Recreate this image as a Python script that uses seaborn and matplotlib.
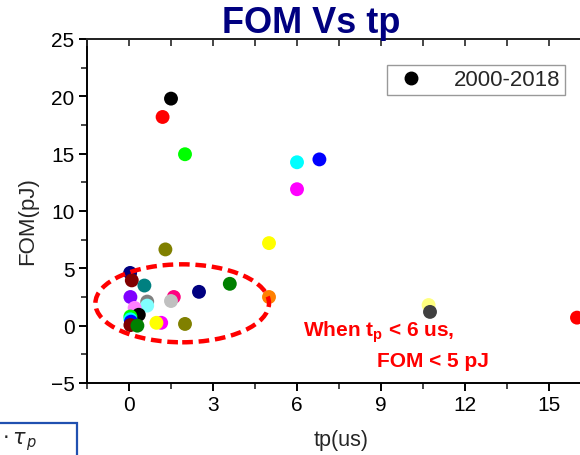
import matplotlib
matplotlib.use("Agg")
import matplotlib.pyplot as plt
from matplotlib.patches import Ellipse, Rectangle
from matplotlib.lines import Line2D
from matplotlib.ticker import MultipleLocator
import seaborn as sns
import pandas as pd

# Reported devices: pulse width tp (us) and figure of merit (pJ)
tp_us = [0.04, 0.10, 0.55, 0.05, 0.65, 0.65, 0.20, 0.35, 0.05, 0.05, 0.07,
         0.05, 0.30, 1.15, 0.98, 2.00, 1.60, 1.50, 2.50, 3.60, 5.00, 1.30,
         5.00, 1.50, 1.20, 2.00, 6.00, 6.80, 6.00, 10.70, 10.75, 16.00]
fom_pj = [4.60, 3.95, 3.50, 2.50, 2.10, 1.75, 1.55, 0.95, 0.80, 0.55, 0.35,
          0.05, 0.00, 0.25, 0.25, 0.15, 2.50, 2.15, 2.95, 3.65, 2.50, 6.65,
          7.20, 19.80, 18.20, 14.95, 14.25, 14.50, 11.90, 1.80, 1.20, 0.70]
point_colors = ["#000080", "#800000", "#008080", "#8000ff", "#808080", "#80ffff",
                "#ff80ff", "#000000", "#00ff00", "#00ffff", "#0000ff", "#800000",
                "#008000", "#ff00ff", "#ffff00", "#808000", "#ff0080", "#c0c0c0",
                "#000080", "#008000", "#ff8000", "#808000", "#ffff00", "#000000",
                "#ff0000", "#00ff00", "#00ffff", "#0000ff", "#ff00ff", "#ffff80",
                "#404040", "#ff0000"]
series_label = "2000-2018"

df = pd.DataFrame({"tp": tp_us, "fom": fom_pj,
                   "pid": [f"p{i}" for i in range(len(tp_us))]})
palette = dict(zip(df["pid"], point_colors))

sns.set_theme(style="ticks")
plt.rcParams["font.family"] = ["Liberation Sans", "DejaVu Sans"]

W, H = 580, 456
fig = plt.figure(figsize=(W / 100, H / 100), dpi=100)
ax_left, ax_right, ax_top, ax_bottom = 87, 625, 40, 384
ax_w, ax_h = ax_right - ax_left, ax_bottom - ax_top
ax = fig.add_axes([ax_left / W, 1 - ax_bottom / H, ax_w / W, ax_h / H])

sns.scatterplot(data=df, x="tp", y="fom", hue="pid", palette=palette,
                hue_order=list(df["pid"]), s=100, linewidth=0,
                legend=False, ax=ax, zorder=3)

xlim = (-1.5, (ax_right - 129) / 28)
ax.set_xlim(*xlim)
ax.set_ylim(-5, 25)
ax.xaxis.set_major_locator(MultipleLocator(3))
ax.xaxis.set_minor_locator(MultipleLocator(1.5))
ax.yaxis.set_major_locator(MultipleLocator(5))
ax.yaxis.set_minor_locator(MultipleLocator(2.5))

for sp in ax.spines.values():
    sp.set_linewidth(1.4)
    sp.set_color("black")
ax.spines["right"].set_visible(False)

ax.tick_params(axis="both", which="major", direction="out", length=6, width=1.4,
               labelsize=15, colors="black", pad=3)
ax.tick_params(axis="both", which="minor", direction="out", length=4, width=1.2)
ax.tick_params(axis="x", which="both", top=False)

# Top axis ticks point inwards
ax_t = ax.twiny()
ax_t.set_xlim(*xlim)
ax_t.xaxis.set_major_locator(MultipleLocator(3))
ax_t.xaxis.set_minor_locator(MultipleLocator(1.5))
ax_t.tick_params(which="both", direction="in", length=5, width=1.2, labeltop=False)
for name, sp in ax_t.spines.items():
    sp.set_visible(name == "top")
ax_t.spines["top"].set_linewidth(1.4)

# Axis titles placed at fixed figure positions
ax.set_xlabel("")
fig.text(341 / W, 1 - 441 / H, "tp(us)", fontsize=15.5, ha="center", va="center")
ax.set_ylabel("FOM(pJ)", fontsize=16)
ax.yaxis.set_label_coords(38 / W, 1 - 221 / H, transform=fig.transFigure)

fig.text(311 / W, 1 - 24 / H, "FOM Vs tp", ha="center", va="center",
         fontsize=26, fontweight="bold", color="#000080", zorder=10)

# Region of interest
ell = Ellipse((1.9, 1.95), 6.2, 6.8, fill=False, edgecolor="#ff0000",
              linewidth=3.2, linestyle=(0, (2.4, 1.3)), zorder=4)
ax.add_patch(ell)

ax.text(6.2, -0.45, r"When t$_\mathregular{p}$ < 6 us,", color="#ff0000",
        fontsize=15, fontweight="bold", ha="left", va="center")
ax.text(8.86, -3.0, "FOM < 5 pJ", color="#ff0000",
        fontsize=15, fontweight="bold", ha="left", va="center")

handle = Line2D([], [], marker="o", color="black", linestyle="none", markersize=9)
leg = ax_t.legend([handle], [series_label], loc="upper left",
                  bbox_to_anchor=((387 - ax_left) / ax_w, (ax_bottom - 66) / ax_h),
                  fontsize=16, frameon=True, fancybox=False, borderpad=0.2,
                  handletextpad=1.0, borderaxespad=0, handlelength=1.8)
leg.get_frame().set_edgecolor("#808080")
leg.get_frame().set_linewidth(1.0)

# Partial equation box at the lower-left of the slide
box = Rectangle((-5 / W, -0.1), 82 / W, 0.1 + (1 - 424 / H), transform=fig.transFigure,
                fill=False, edgecolor="#2050b0", linewidth=1.6, clip_on=False)
fig.add_artist(box)
fig.text(2 / W, 1 - 442 / H, r"$\cdot\,\tau_{\,p}$", fontsize=15, ha="left",
         va="center", family="DejaVu Serif")

fig.savefig("out.png", dpi=100)
